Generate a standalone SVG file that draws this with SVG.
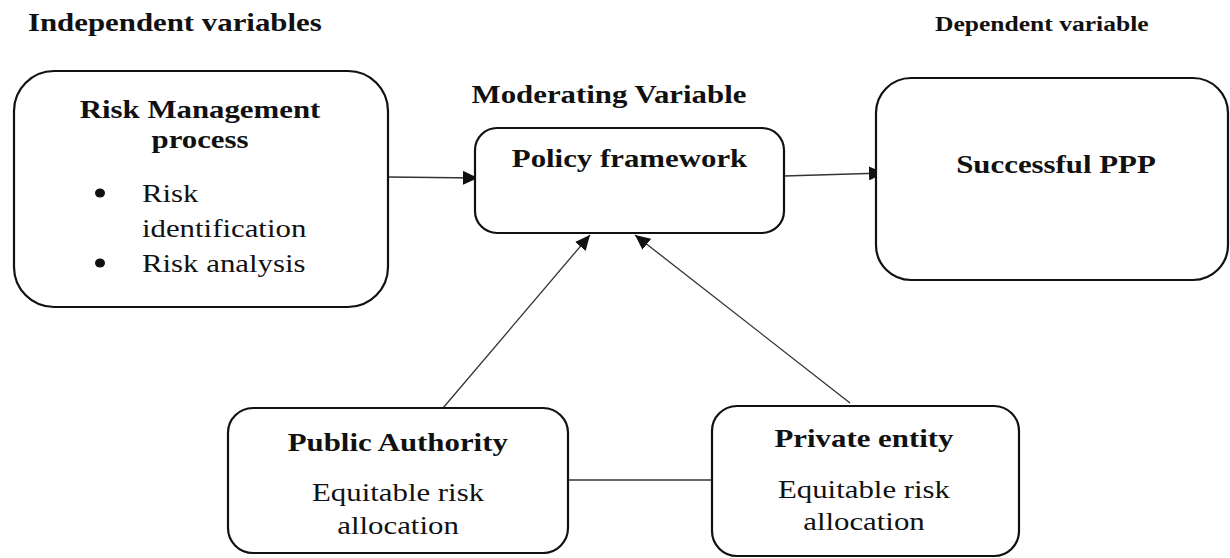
<svg xmlns="http://www.w3.org/2000/svg" width="1230" height="558" viewBox="0 0 1230 558">
  <style>
    .box { fill: #ffffff; stroke: #111111; stroke-width: 2.2; }
    .link { fill: none; stroke: #333333; stroke-width: 1.3; }
    .b { font-family: "Liberation Serif", "Times New Roman", serif; font-weight: bold; font-size: 25.7px; fill: #111111; }
    .r { font-family: "Liberation Serif", "Times New Roman", serif; font-size: 25.7px; fill: #111111; }
    .mid { text-anchor: middle; }
  </style>
  <defs>
    <marker id="arrow" markerUnits="userSpaceOnUse" markerWidth="16" markerHeight="14" refX="15" refY="7" orient="auto">
      <path d="M0,0 L15,7 L0,14 z" fill="#111111"/>
    </marker>
  </defs>

  <rect width="1230" height="558" fill="#ffffff"/>

  <!-- section headings (text is set in a 1.2x horizontally widened space) -->
  <g id="headings" transform="scale(1.2,1)">
    <text class="b" x="23.3" y="31">Independent variables</text>
    <text class="b" x="779.2" y="31" style="font-size:21.3px">Dependent variable</text>
    <text class="b mid" x="507.5" y="103">Moderating Variable</text>
  </g>

  <!-- connectors -->
  <g id="connectors">
    <line class="link" x1="388" y1="177" x2="478" y2="178" marker-end="url(#arrow)"/>
    <line class="link" x1="784" y1="176" x2="884" y2="173" marker-end="url(#arrow)"/>
    <line class="link" x1="443" y1="408" x2="590" y2="235" marker-end="url(#arrow)"/>
    <line class="link" x1="850" y1="403" x2="635" y2="235" marker-end="url(#arrow)"/>
    <line class="link" x1="568" y1="480" x2="717" y2="480"/>
  </g>

  <!-- independent variable -->
  <g id="risk-management">
    <rect class="box" x="14" y="71" width="374" height="236" rx="40" ry="40"/>
    <ellipse cx="100" cy="193" rx="5" ry="4.6" fill="#111111"/>
    <ellipse cx="100" cy="263" rx="5" ry="4.6" fill="#111111"/>
    <g transform="scale(1.2,1)">
      <text class="b mid" x="166.7" y="118">Risk Management</text>
      <text class="b mid" x="166.7" y="148">process</text>
      <text class="r" x="118.3" y="202">Risk</text>
      <text class="r" x="118.3" y="237">identification</text>
      <text class="r" x="118.3" y="272">Risk analysis</text>
    </g>
  </g>

  <!-- moderating variable -->
  <g id="policy-framework">
    <rect class="box" x="475" y="128" width="309" height="105" rx="22" ry="22"/>
    <g transform="scale(1.2,1)">
      <text class="b mid" x="524.6" y="167">Policy framework</text>
    </g>
  </g>

  <!-- dependent variable -->
  <g id="successful-ppp">
    <rect class="box" x="876" y="78" width="352" height="202" rx="35" ry="35"/>
    <g transform="scale(1.2,1)">
      <text class="b mid" x="880" y="173">Successful PPP</text>
    </g>
  </g>

  <g id="public-authority">
    <rect class="box" x="228" y="408" width="340" height="145" rx="25" ry="25"/>
    <g transform="scale(1.2,1)">
      <text class="b mid" x="331.5" y="451">Public Authority</text>
      <text class="r mid" x="331.7" y="501">Equitable risk</text>
      <text class="r mid" x="331.7" y="534">allocation</text>
    </g>
  </g>

  <g id="private-entity">
    <rect class="box" x="712" y="406" width="307" height="150" rx="25" ry="25"/>
    <g transform="scale(1.2,1)">
      <text class="b mid" x="720" y="447">Private entity</text>
      <text class="r mid" x="720" y="498">Equitable risk</text>
      <text class="r mid" x="720" y="530">allocation</text>
    </g>
  </g>
</svg>
